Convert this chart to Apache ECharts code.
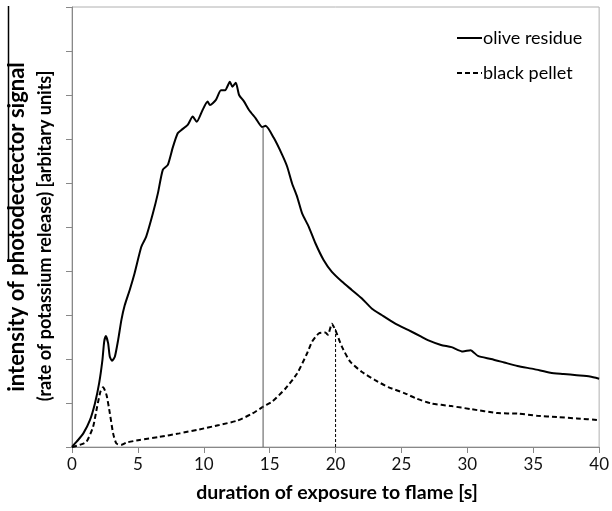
<!DOCTYPE html>
<html>
<head>
<meta charset="utf-8">
<script src="https://cdn.jsdelivr.net/npm/echarts@6/dist/echarts.min.js"></script>
<style>
  html, body { margin: 0; padding: 0; background: #fff; }
  #chart { width: 612px; height: 511px; }
</style>
</head>
<body>
<div id="chart"></div>
<script>
// olive residue (solid line) [time s, signal]
var oliveResidue = [
    [0, 0], [0.35, 0.12], [0.86, 0.31], [1.36, 0.61], [1.74, 0.99], [2.06, 1.45],
    [2.31, 1.98], [2.44, 2.39], [2.57, 2.52], [2.74, 2.36], [2.87, 2.05], [3.04, 1.96],
    [3.25, 2.05], [3.5, 2.43], [3.75, 2.89], [4.0, 3.22], [4.38, 3.57], [4.75, 3.95],
    [5.26, 4.55], [5.63, 4.78], [6.14, 5.31], [6.52, 5.77], [6.89, 6.30], [7.27, 6.41],
    [7.65, 6.81], [8.02, 7.13], [8.28, 7.2], [8.78, 7.32], [9.16, 7.51], [9.46, 7.39],
    [9.91, 7.66], [10.29, 7.85], [10.47, 7.77], [10.92, 7.89], [11.3, 8.11], [11.62, 8.11],
    [11.98, 8.3], [12.17, 8.19], [12.43, 8.28], [12.68, 8.0], [13.06, 7.85], [13.43, 7.66],
    [13.94, 7.47], [14.44, 7.27], [14.69, 7.30], [15.32, 7.02], [15.95, 6.64], [16.33, 6.37],
    [16.7, 5.99], [17.08, 5.69], [17.46, 5.31], [17.96, 5.01], [18.47, 4.63], [19.09, 4.25],
    [19.72, 3.98], [20.48, 3.76], [21.23, 3.57], [21.98, 3.38], [22.74, 3.15], [23.5, 3.0],
    [24.5, 2.81], [25.5, 2.66], [26.5, 2.51], [27.0, 2.43], [28.0, 2.32], [28.8, 2.27],
    [29.66, 2.17], [30.24, 2.2], [30.8, 2.07], [31.8, 2.0], [32.8, 1.92], [33.8, 1.84],
    [35.07, 1.77], [36.3, 1.69], [37.3, 1.66], [38.3, 1.63], [39.3, 1.6], [40, 1.55]
];

// black pellet (dashed line)
var blackPellet = [
    [0, 0], [0.6, 0.05], [1.1, 0.12], [1.6, 0.46], [1.91, 0.92], [2.16, 1.26],
    [2.36, 1.36], [2.62, 1.18], [2.87, 0.77], [3.12, 0.31], [3.37, 0.08], [3.75, 0.05],
    [4.12, 0.1], [5.13, 0.16], [6.64, 0.23], [8.15, 0.31], [9.66, 0.4], [11.17, 0.5],
    [12.55, 0.6], [13.68, 0.76], [14.57, 0.93], [15.19, 1.03], [16.2, 1.33], [17.08, 1.67],
    [17.84, 2.13], [18.21, 2.39], [18.72, 2.58], [19.22, 2.6], [19.42, 2.55], [19.72, 2.8],
    [19.98, 2.66], [20.48, 2.28], [21.11, 1.94], [21.98, 1.71], [23.0, 1.52], [24.0, 1.36],
    [25.26, 1.22], [26.14, 1.1], [27.27, 0.99], [28.78, 0.93], [30.29, 0.86], [32.3, 0.77],
    [33.8, 0.76], [35.3, 0.71], [36.8, 0.68], [38.3, 0.65], [40, 0.61]
];

// vertical marks at the peaks
var oliveMark = [[14.5, 0], [14.5, 7.27]];
var pelletMark = [[20, 0], [20, 2.72]];

var seriesNames = ['olive residue', 'black pellet'];
var xTitle = 'duration of exposure to flame [s]';
var yTitle1 = 'intensity of photodectector signal';
var yTitle2 = '(rate of potassium release) [arbitary units]';

var font = 'Lato, "Open Sans", sans-serif';
var chart = echarts.init(document.getElementById('chart'));

var option = {
    animation: false,
    backgroundColor: '#fff',
    grid: {
        left: 72, right: 10, top: 7, bottom: 64,
        show: true, borderColor: '#b0b0b0', borderWidth: 1
    },
    legend: {
        data: seriesNames,
        orient: 'vertical',
        left: 451,
        top: 24,
        itemWidth: 25,
        itemHeight: 14,
        itemGap: 17,
        itemStyle: { opacity: 0 },
        textStyle: { fontFamily: font, fontSize: 18, color: '#000', padding: [0, 0, 0, -4] }
    },
    xAxis: {
        type: 'value',
        min: 0, max: 40, interval: 5,
        axisLine: { lineStyle: { color: '#888' } },
        axisTick: { show: true, length: 6, lineStyle: { color: '#888' } },
        axisLabel: { fontFamily: font, fontSize: 17, color: '#111', margin: 9 },
        splitLine: { show: false }
    },
    yAxis: {
        type: 'value',
        min: 0, max: 10, interval: 1,
        axisLine: { show: true, lineStyle: { color: '#888' } },
        axisTick: { show: true, length: 6, lineStyle: { color: '#888' } },
        axisLabel: { show: false },
        splitLine: { show: false }
    },
    graphic: [
        {
            type: 'text', x: 17, y: 227, rotation: Math.PI / 2,
            style: {
                text: yTitle1, fontFamily: font, fontSize: 22, fontWeight: 'bold',
                fill: '#000', align: 'center', verticalAlign: 'middle'
            }
        },
        {
            type: 'text', x: 45, y: 236, rotation: Math.PI / 2,
            style: {
                text: yTitle2, fontFamily: font, fontSize: 18, fontWeight: 'bold',
                fill: '#000', align: 'center', verticalAlign: 'middle'
            }
        },
        {
            type: 'text', x: 337, y: 493,
            style: {
                text: xTitle, fontFamily: font, fontSize: 19.5, fontWeight: 'bold',
                fill: '#000', align: 'center', verticalAlign: 'middle'
            }
        },
        {
            type: 'line',
            shape: { x1: 8.5, y1: 6, x2: 8.5, y2: 262 },
            style: { stroke: '#000', lineWidth: 1.5 }
        }
    ],
    series: [
        {
            name: seriesNames[0], type: 'line', data: oliveResidue,
            symbol: 'none', smooth: 0.2,
            lineStyle: { color: '#000', width: 2 }, itemStyle: { color: '#000' }
        },
        {
            name: seriesNames[1], type: 'line', data: blackPellet,
            symbol: 'none', smooth: 0.2,
            lineStyle: { color: '#000', width: 2, type: [5, 3] }, itemStyle: { color: '#000' }
        },
        {
            name: 'olive mark', type: 'line', data: oliveMark, symbol: 'none',
            lineStyle: { color: '#555', width: 1 }
        },
        {
            name: 'pellet mark', type: 'line', data: pelletMark, symbol: 'none',
            lineStyle: { color: '#000', width: 1, type: [3, 2] }
        }
    ]
};

chart.setOption(option);
</script>
</body>
</html>
